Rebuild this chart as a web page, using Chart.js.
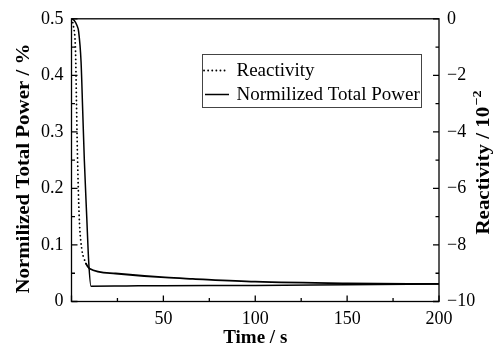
<!DOCTYPE html>
<html lang="en">
<head>
<meta charset="UTF-8">
<title>Normalized Total Power and Reactivity</title>
<script src="https://cdn.jsdelivr.net/npm/chart.js"></script>
<style>
    body { margin: 0; background: #fff; }
    .wrap { position: relative; width: 498px; height: 348px; }
</style>
</head>
<body>
<div class="wrap"><canvas id="chart"></canvas></div>
<script>
    // values
    const powerTime   = [0, 1.5, 3, 3.9, 5.2, 6.1, 7.0, 8.3, 9.4, 10.6, 30, 50, 100, 150, 200];
    const powerValues = [0.5, 0.497, 0.488, 0.477, 0.424, 0.337, 0.249, 0.149, 0.068, 0.027, 0.0275, 0.028, 0.0285, 0.0298, 0.031];

    const reactTime   = [0, 1.1, 2.2, 2.7, 3.2, 4.2, 5.7, 6.8, 7.9, 9.7, 24, 51, 66, 100, 150, 200];
    const reactValues = [0, -0.28, -1.16, -2.92, -4.68, -7.02, -8.19, -8.47, -8.66, -8.83, -9.01, -9.15, -9.2, -9.3, -9.36, -9.38];

    const timeTicks  = [0, 50, 100, 150, 200];
    const powerTicks = [0, 0.1, 0.2, 0.3, 0.4, 0.5];
    const reactTicks = [-10, -8, -6, -4, -2, 0];

    const serif = "'Liberation Serif', 'Times New Roman', serif";
    const labelFont = { family: serif, size: 18 };
    const titleFont = "bold 19px " + serif;

    function pairs(xs, ys) {
        return xs.map((x, i) => ({ x: x, y: ys[i] }));
    }

    function minus(v) {
        return v < 0 ? "\u2212" + Math.abs(v) : String(v);
    }

    // box around the plot, inward ticks, axis titles and the legend
    const decorations = {
        id: "decorations",
        afterDraw(chart) {
            const ctx = chart.ctx;
            const a = chart.chartArea;
            const x = chart.scales.x, y = chart.scales.y, y1 = chart.scales.y1;
            ctx.save();
            ctx.strokeStyle = "#000";
            ctx.lineWidth = 1.3;
            ctx.strokeRect(a.left, a.top, a.right - a.left, a.bottom - a.top);

            ctx.beginPath();
            for (let v = 0; v <= 200; v += 25) {
                const px = x.getPixelForValue(v);
                const len = v % 50 === 0 ? 6 : 3.5;
                ctx.moveTo(px, a.bottom); ctx.lineTo(px, a.bottom - len);
            }
            for (let i = 0; i <= 10; i++) {
                const py = y.getPixelForValue(i * 0.05);
                const len = i % 2 === 0 ? 6 : 3.5;
                ctx.moveTo(a.left, py); ctx.lineTo(a.left + len, py);
            }
            for (let v = -10; v <= 0; v++) {
                const py = y1.getPixelForValue(v);
                const len = v % 2 === 0 ? 6 : 3.5;
                ctx.moveTo(a.right, py); ctx.lineTo(a.right - len, py);
            }
            ctx.stroke();

            // axis titles
            ctx.fillStyle = "#000";
            ctx.font = titleFont;
            ctx.textAlign = "center";
            ctx.textBaseline = "middle";
            ctx.fillText("Time / s", (a.left + a.right) / 2, 338);

            ctx.save();
            ctx.translate(24, a.top + (a.bottom - a.top) * 0.53);
            ctx.rotate(-Math.PI / 2);
            ctx.scale(1.1, 1);
            ctx.fillText("Normilized Total Power / %", 0, 0);
            ctx.restore();

            ctx.save();
            ctx.translate(484, a.top + (a.bottom - a.top) * 0.51);
            ctx.rotate(-Math.PI / 2);
            ctx.scale(1.1, 1);
            const main = "Reactivity / 10";
            const sup = "\u22122";
            const wMain = ctx.measureText(main).width;
            ctx.font = "bold 13px " + serif;
            const wSup = ctx.measureText(sup).width;
            const start = -(wMain + wSup) / 2;
            ctx.textAlign = "left";
            ctx.fillText(sup, start + wMain + 1, -6);
            ctx.font = titleFont;
            ctx.fillText(main, start, 0);
            ctx.restore();

            // legend
            ctx.lineWidth = 1;
            ctx.strokeStyle = "#444";
            ctx.strokeRect(202.5, 54.5, 219, 53);
            ctx.font = "19px " + serif;
            ctx.textAlign = "left";
            ctx.textBaseline = "middle";
            const rows = [
                { ds: chart.data.datasets[0], y: 70.5, x0: 204, x1: 227 },
                { ds: chart.data.datasets[1], y: 94.5, x0: 205, x1: 229 }
            ];
            rows.forEach(r => {
                ctx.save();
                ctx.strokeStyle = "#000";
                ctx.lineWidth = r.ds.borderWidth;
                ctx.lineCap = r.ds.borderCapStyle || "butt";
                ctx.setLineDash(r.ds.borderDash || []);
                ctx.beginPath();
                ctx.moveTo(r.x0, r.y); ctx.lineTo(r.x1, r.y);
                ctx.stroke();
                ctx.restore();
                ctx.fillText(r.ds.label, 236.5, r.y + 1);
            });
            ctx.restore();
        }
    };

    new Chart(document.getElementById("chart"), {
        type: "line",
        data: {
            datasets: [
                {
                    label: "Reactivity",
                    data: pairs(reactTime, reactValues),
                    yAxisID: "y1",
                    borderColor: "#000",
                    borderWidth: 1.8,
                    borderDash: [0.1, 4],
                    borderCapStyle: "round",
                    pointRadius: 0,
                    cubicInterpolationMode: "monotone",
                    segment: {
                        borderDash: c => c.p0.parsed.x >= 7.9 ? [] : undefined
                    }
                },
                {
                    label: "Normilized Total Power",
                    data: pairs(powerTime, powerValues),
                    yAxisID: "y",
                    borderColor: "#000",
                    borderWidth: 1.5,
                    pointRadius: 0,
                    cubicInterpolationMode: "monotone"
                }
            ]
        },
        options: {
            responsive: true,
            maintainAspectRatio: false,
            animation: false,
            devicePixelRatio: 1,
            layout: { padding: { top: 17, left: 0, right: 0, bottom: 0 } },
            plugins: { legend: { display: false }, tooltip: { enabled: false } },
            scales: {
                x: {
                    type: "linear",
                    min: timeTicks[0],
                    max: timeTicks[timeTicks.length - 1],
                    afterBuildTicks: s => { s.ticks = timeTicks.map(v => ({ value: v })); },
                    afterFit: s => { s.height = 46.5; },
                    grid: { display: false, drawTicks: false },
                    border: { display: false },
                    ticks: {
                        padding: 7,
                        color: "#000",
                        font: labelFont,
                        maxRotation: 0,
                        callback: v => v === 0 ? "" : String(v)
                    }
                },
                y: {
                    position: "left",
                    min: powerTicks[0],
                    max: powerTicks[powerTicks.length - 1],
                    afterBuildTicks: s => { s.ticks = powerTicks.map(v => ({ value: v })); },
                    afterFit: s => { s.width = 71.5; },
                    grid: { display: false, drawTicks: false },
                    border: { display: false },
                    ticks: { padding: 8, color: "#000", font: labelFont, callback: v => String(v) }
                },
                y1: {
                    position: "right",
                    min: reactTicks[0],
                    max: reactTicks[reactTicks.length - 1],
                    afterBuildTicks: s => { s.ticks = reactTicks.map(v => ({ value: v })); },
                    afterFit: s => { s.width = 59; },
                    grid: { display: false, drawTicks: false },
                    border: { display: false },
                    ticks: { padding: 8, color: "#000", font: labelFont, callback: v => minus(v) }
                }
            }
        },
        plugins: [decorations]
    });
</script>
</body>
</html>
